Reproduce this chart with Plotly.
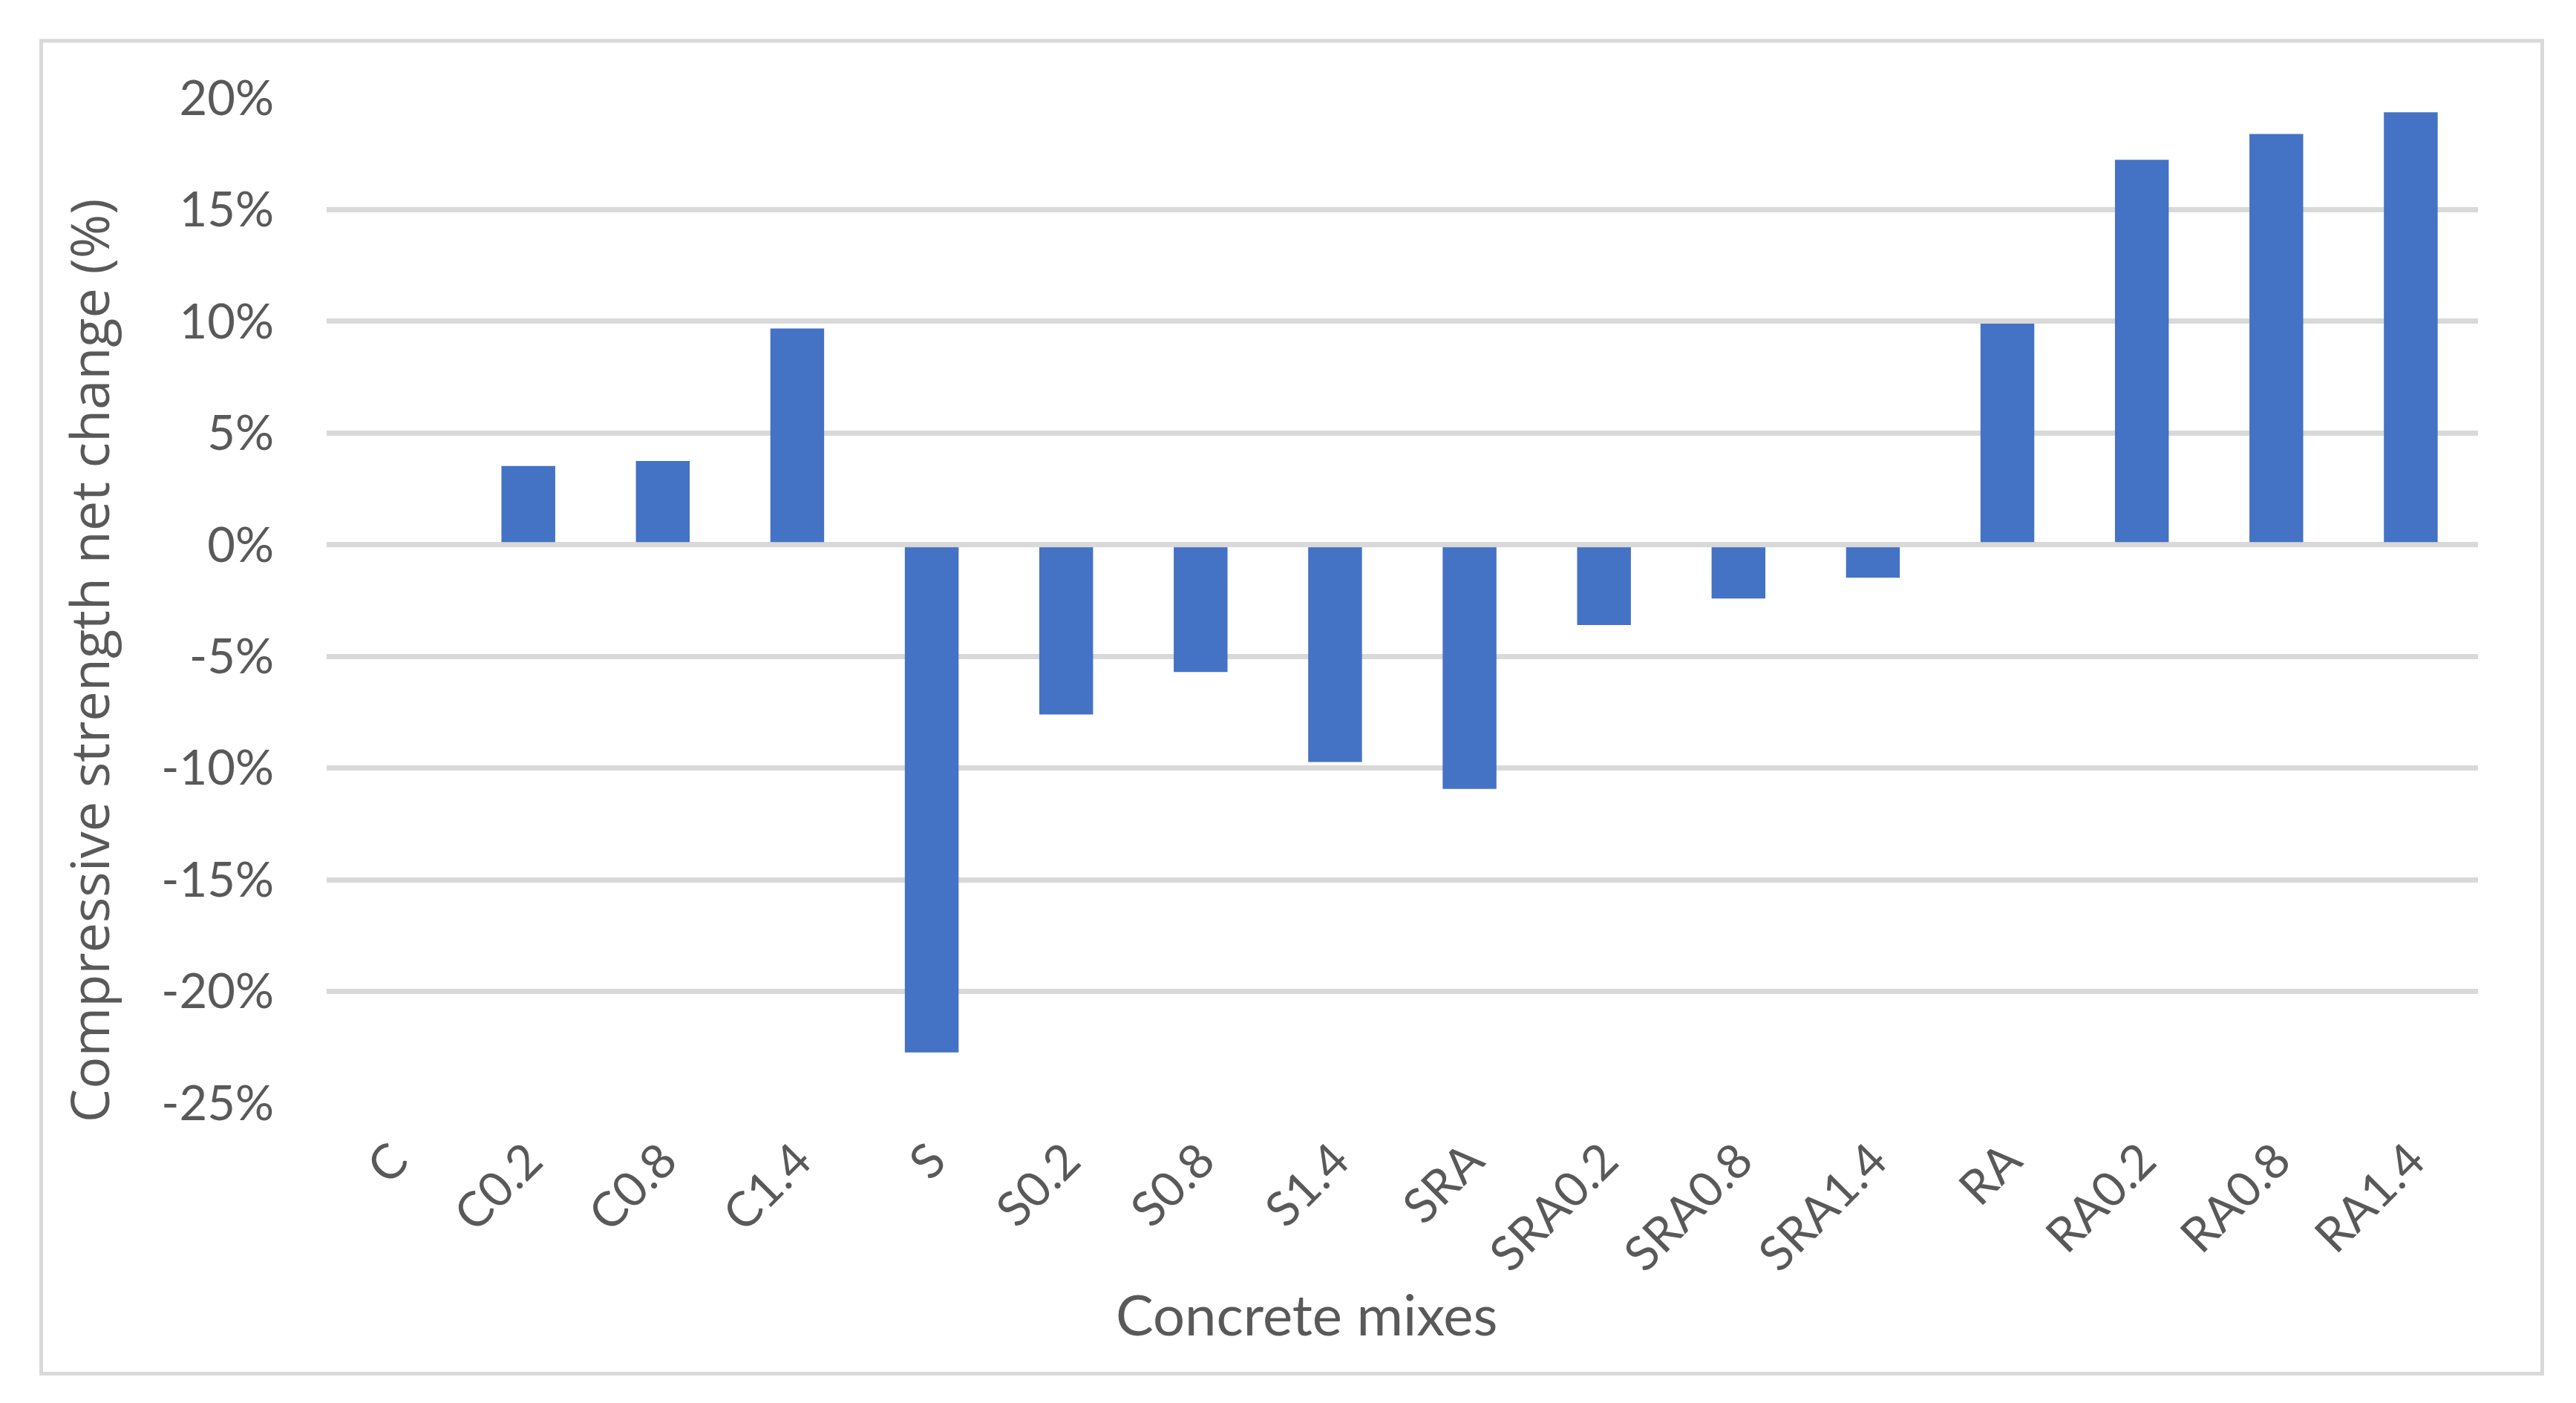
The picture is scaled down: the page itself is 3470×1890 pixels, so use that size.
import plotly.graph_objects as go

# ---- data ----
mixes = ["C", "C0.2", "C0.8", "C1.4", "S", "S0.2", "S0.8", "S1.4",
         "SRA", "SRA0.2", "SRA0.8", "SRA1.4", "RA", "RA0.2", "RA0.8", "RA1.4"]
net_change = [0.0, 3.52, 3.75, 9.68, -22.73, -7.60, -5.70, -9.73,
              -10.93, -3.60, -2.41, -1.48, 9.90, 17.23, 18.39, 19.36]
y_tick_values = [-25, -20, -15, -10, -5, 0, 5, 10, 15, 20]
y_tick_labels = ["-25%", "-20%", "-15%", "-10%", "-5%", "0%", "5%", "10%", "15%", "20%"]
x_title = "Concrete mixes"
y_title = "Compressive strength net change (%)"

# ---- geometry (pixels, in screenshot coordinates) ----
OFF = 8  # default page body margin
W, H = 3470 - 2 * OFF, 1890 - 2 * OFF
L, R, T, B = 440 - OFF, 3338 - OFF, 131.6 - OFF, 1486.0 - OFF
PW, PH = R - L, B - T

def px_x(x):
    return (x - OFF - L) / PW

def px_y(y):
    return (B - (y - OFF)) / PH

GRID = "#D9D9D9"
TXT = "#595959"
BAR = "#4472C4"

fig = go.Figure(go.Bar(x=mixes, y=net_change, width=0.4,
                       marker=dict(color=BAR, line=dict(width=0))))

fig.update_layout(
    width=W, height=H, autosize=False,
    margin=dict(l=L, r=W - R, t=T, b=H - B, pad=0),
    paper_bgcolor="white", plot_bgcolor="white",
    showlegend=False,
    font=dict(family="Lato", color=TXT, size=65),
    xaxis=dict(type="category", tickangle=-45, showgrid=False, showline=False,
               zeroline=False, ticks="outside", ticklen=12,
               tickcolor="rgba(0,0,0,0)", tickfont=dict(family="Lato", size=65, color=TXT)),
    yaxis=dict(range=[-25, 20], tickvals=y_tick_values, ticktext=y_tick_labels,
               showgrid=True, gridcolor=GRID, gridwidth=7, zeroline=False,
               showline=False, ticks="outside", ticklen=57,
               tickcolor="rgba(0,0,0,0)", tickfont=dict(family="Lato", size=65, color=TXT)),
    shapes=[
        dict(type="line", xref="paper", yref="y", x0=0, x1=1, y0=0, y1=0,
             line=dict(color=GRID, width=7), layer="above"),
        dict(type="rect", xref="paper", yref="paper",
             x0=px_x(55.5), x1=px_x(3424.5), y0=px_y(1850.5), y1=px_y(54.5),
             line=dict(color=GRID, width=5), layer="below"),
    ],
    annotations=[
        dict(text=y_title, xref="paper", yref="paper", x=px_x(119), y=px_y(890),
             xanchor="center", yanchor="middle", textangle=-90, showarrow=False,
             font=dict(family="Open Sans", size=72, color=TXT)),
        dict(text=x_title, xref="paper", yref="paper", x=px_x(1760), y=px_y(1770),
             xanchor="center", yanchor="middle", showarrow=False,
             font=dict(family="Lato", size=76, color=TXT)),
    ],
)

fig.write_html("out.html")
